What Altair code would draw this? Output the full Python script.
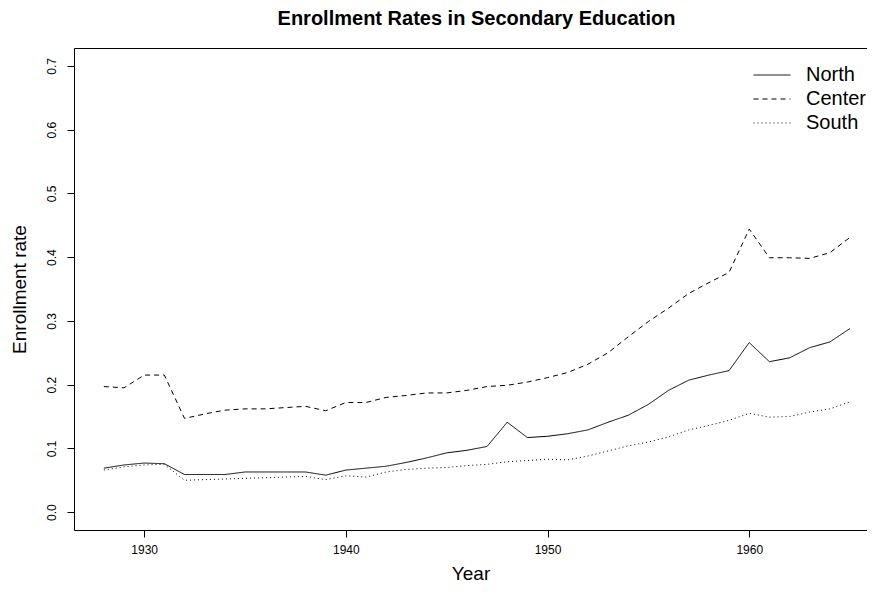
import altair as alt
import pandas as pd

years = list(range(1928, 1966))

north = [0.069, 0.074, 0.077, 0.076, 0.059, 0.059, 0.059, 0.063, 0.063, 0.063,
         0.063, 0.058, 0.066, 0.069, 0.072, 0.078, 0.085, 0.093, 0.097, 0.103,
         0.141, 0.117, 0.119, 0.123, 0.129, 0.141, 0.152, 0.169, 0.191, 0.207,
         0.215, 0.222, 0.266, 0.236, 0.242, 0.258, 0.267, 0.288]

center = [0.197, 0.195, 0.215, 0.215, 0.147, 0.154, 0.160, 0.162, 0.162, 0.164,
          0.166, 0.159, 0.172, 0.172, 0.180, 0.183, 0.187, 0.187, 0.191, 0.197,
          0.199, 0.204, 0.211, 0.219, 0.232, 0.250, 0.275, 0.299, 0.320, 0.343,
          0.360, 0.376, 0.444, 0.399, 0.399, 0.398, 0.407, 0.431]

south = [0.066, 0.071, 0.074, 0.075, 0.050, 0.051, 0.052, 0.053, 0.054, 0.055,
         0.056, 0.051, 0.057, 0.055, 0.063, 0.067, 0.069, 0.070, 0.073, 0.075,
         0.079, 0.081, 0.083, 0.082, 0.088, 0.096, 0.104, 0.110, 0.118, 0.129,
         0.136, 0.144, 0.155, 0.149, 0.150, 0.157, 0.162, 0.173]

regions = ["North", "Center", "South"]
x_ticks = [1930, 1940, 1950, 1960]
y_ticks = [0.0, 0.1, 0.2, 0.3, 0.4, 0.5, 0.6, 0.7]

rows = []
for name, vals in zip(regions, [north, center, south]):
    for yr, v in zip(years, vals):
        rows.append({"Year": yr, "Rate": v, "Region": name})
df = pd.DataFrame(rows)

FONT = "Liberation Sans"

chart = alt.Chart(df).mark_line(color="black", strokeWidth=1).encode(
    x=alt.X("Year:Q",
            scale=alt.Scale(domain=[1926.52, 1965.84], nice=False, zero=False),
            axis=alt.Axis(values=x_ticks, format="d", title="Year", grid=False,
                          domain=False, tickColor="black", tickSize=7,
                          labelFontSize=12, labelPadding=7, titleFontSize=19,
                          titleFontWeight="normal", titlePadding=9,
                          labelColor="black", titleColor="black")),
    y=alt.Y("Rate:Q",
            scale=alt.Scale(domain=[-0.028, 0.728], nice=False, zero=False),
            axis=alt.Axis(values=y_ticks, format=".1f", title="Enrollment rate",
                          grid=False, domain=False, tickColor="black", tickSize=7,
                          labelFontSize=12, labelAngle=270, labelAlign="center",
                          labelBaseline="bottom", labelPadding=9,
                          titleFontSize=19, titleFontWeight="normal",
                          titlePadding=16, labelColor="black", titleColor="black")),
    strokeDash=alt.StrokeDash("Region:N",
                              scale=alt.Scale(domain=regions,
                                              range=[[1, 0], [5, 4], [1, 3]]),
                              sort=regions,
                              legend=alt.Legend(title=None, orient="none",
                                                legendX=679, legendY=15,
                                                symbolType="stroke",
                                                symbolStrokeColor="black",
                                                symbolStrokeWidth=1,
                                                symbolSize=1369,
                                                clipHeight=24,
                                                labelFontSize=20,
                                                labelOffset=15,
                                                rowPadding=0,
                                                labelColor="black")),
    detail="Region:N",
).properties(
    width=793,
    height=482,
    title=alt.TitleParams("Enrollment Rates in Secondary Education",
                          fontSize=20, fontWeight="bold", font=FONT,
                          anchor="middle", offset=19, dx=6, color="black"),
    autosize=alt.AutoSizeParams(type="none"),
    padding={"left": 66, "top": 40, "right": 0, "bottom": 55},
).configure(font=FONT).configure_view(
    stroke="black", strokeWidth=1
).configure_axis(labelFont=FONT, titleFont=FONT).configure_legend(
    labelFont=FONT
)

chart.save("out.html", embed_options={"renderer": "svg", "actions": False})
